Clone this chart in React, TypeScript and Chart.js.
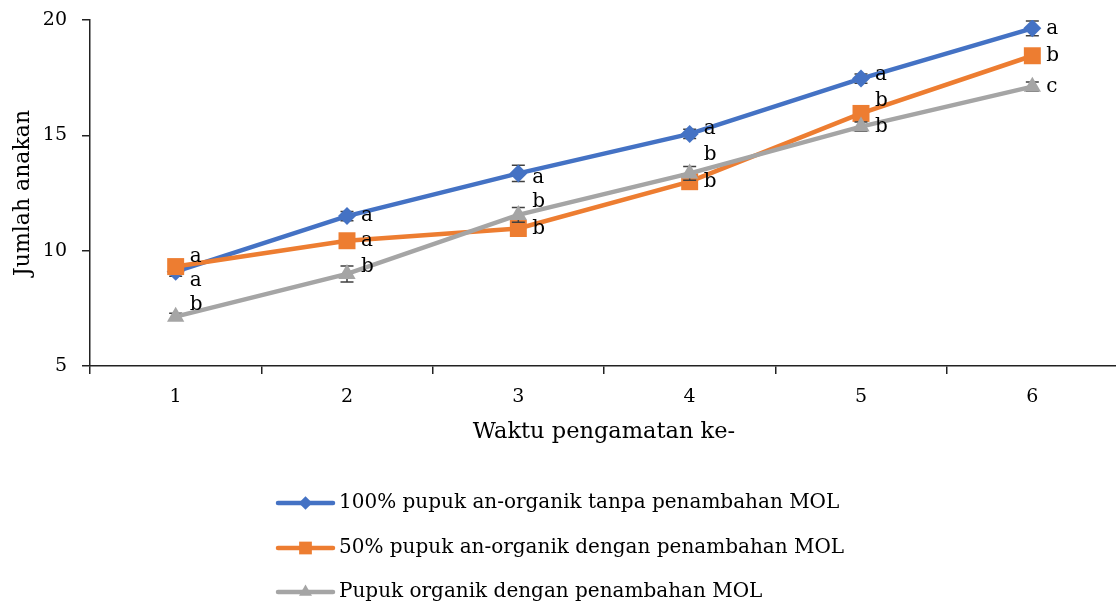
import React, { useEffect, useRef } from "react";
import { Chart, registerables } from "chart.js";

Chart.register(...registerables);

// ---------- data ----------
const categories = ["1", "2", "3", "4", "5", "6"];
const seriesNames = [
  "100% pupuk an-organik tanpa penambahan MOL",
  "50% pupuk an-organik dengan penambahan MOL",
  "Pupuk organik dengan penambahan MOL",
];
const anorganik100 = [9.09, 11.5, 13.35, 15.06, 17.46, 19.64];
const anorganik50Mol = [9.31, 10.43, 10.96, 12.99, 15.95, 18.45];
const organikMol = [7.14, 8.99, 11.55, 13.35, 15.38, 17.11];
const anorganik100Err = [0.2, 0.2, 0.35, 0.2, 0.2, 0.32];
const anorganik50MolErr = [0.2, 0.2, 0.25, 0.2, 0.2, 0.2];
const organikMolErr = [0.15, 0.35, 0.32, 0.3, 0.2, 0.2];
const anorganik100Letters = ["a", "a", "a", "a", "a", "a"];
const anorganik50MolLetters = ["a", "a", "b", "b", "b", "b"];
const organikMolLetters = ["b", "b", "b", "b", "b", "c"];
const yMin = 5;
const yMax = 20;
const yStep = 5;

// label vertical nudges (px) so letters don't overlap, like the original
const letterNudge = [
  [9, 0, 4, -5, -4, 0],
  [-10, 0, 0, 0, -13, 0],
  [-12, -7, -13, -19, 0, 0],
];

const COLORS = ["#4472C4", "#ED7D31", "#A5A5A5"];
const STYLES = ["rectRot", "rect", "triangle"];
const RADII = [9, 12, 10];
const FONT = "'DejaVu Serif', 'Liberation Serif', serif";
const ERR_COLOR = "#404040";

function drawMarker(ctx: CanvasRenderingContext2D, style: string, x: number, y: number, r: number, color: string) {
  ctx.save();
  ctx.fillStyle = color;
  ctx.beginPath();
  if (style === "rectRot") {
    ctx.moveTo(x, y - r);
    ctx.lineTo(x + r, y);
    ctx.lineTo(x, y + r);
    ctx.lineTo(x - r, y);
  } else if (style === "rect") {
    const s = r * Math.SQRT1_2;
    ctx.rect(x - s, y - s, 2 * s, 2 * s);
  } else {
    ctx.moveTo(x, y - r);
    ctx.lineTo(x + r * 0.866, y + r / 2);
    ctx.lineTo(x - r * 0.866, y + r / 2);
  }
  ctx.closePath();
  ctx.fill();
  ctx.restore();
}

const errorBarPlugin = {
  id: "errorBars",
  beforeDatasetDraw(chart: any, args: any) {
    const ds = chart.data.datasets[args.index];
    const errs: number[] = ds.errors || [];
    const yScale = chart.scales.y;
    const ctx = chart.ctx;
    ctx.save();
    ctx.strokeStyle = ERR_COLOR;
    ctx.lineWidth = 1.5;
    args.meta.data.forEach((pt: any, j: number) => {
      const v = ds.data[j];
      const e = errs[j] || 0;
      const y1 = yScale.getPixelForValue(v + e);
      const y2 = yScale.getPixelForValue(v - e);
      const x = pt.x;
      ctx.beginPath();
      ctx.moveTo(x, y1);
      ctx.lineTo(x, y2);
      ctx.moveTo(x - 6.5, y1);
      ctx.lineTo(x + 6.5, y1);
      ctx.moveTo(x - 6.5, y2);
      ctx.lineTo(x + 6.5, y2);
      ctx.stroke();
    });
    ctx.restore();
  },
};

const letterPlugin = {
  id: "letters",
  afterDatasetsDraw(chart: any) {
    const ctx = chart.ctx;
    ctx.save();
    ctx.font = `20px ${FONT}`;
    ctx.fillStyle = "#000";
    ctx.textAlign = "left";
    ctx.textBaseline = "middle";
    chart.data.datasets.forEach((ds: any, i: number) => {
      const meta = chart.getDatasetMeta(i);
      meta.data.forEach((pt: any, j: number) => {
        ctx.fillText(ds.letters[j], pt.x + 14, pt.y + letterNudge[i][j]);
      });
    });
    ctx.restore();
  },
};

const legendPlugin = {
  id: "customLegend",
  afterDraw(chart: any) {
    const ctx = chart.ctx;
    const x0 = 278;
    const x1 = 333;
    const ys = [503, 548, 592];
    ctx.save();
    chart.data.datasets.forEach((ds: any, i: number) => {
      const y = ys[i];
      ctx.strokeStyle = COLORS[i];
      ctx.lineWidth = 4.5;
      ctx.lineCap = "round";
      ctx.beginPath();
      ctx.moveTo(x0, y);
      ctx.lineTo(x1, y);
      ctx.stroke();
      drawMarker(ctx, STYLES[i], (x0 + x1) / 2, y, RADII[i] * 0.75, COLORS[i]);
      ctx.font = `20px ${FONT}`;
      ctx.fillStyle = "#000";
      ctx.textAlign = "left";
      ctx.textBaseline = "middle";
      ctx.fillText(ds.label, x1 + 6, y);
    });
    ctx.restore();
  },
};

export default function App() {
  const ref = useRef<HTMLCanvasElement | null>(null);

  useEffect(() => {
    if (!ref.current) return;
    const values = [anorganik100, anorganik50Mol, organikMol];
    const errors = [anorganik100Err, anorganik50MolErr, organikMolErr];
    const letters = [anorganik100Letters, anorganik50MolLetters, organikMolLetters];
    const chart = new Chart(ref.current, {
      type: "line",
      data: {
        labels: categories,
        datasets: values.map((v, i) => ({
          label: seriesNames[i],
          data: v,
          errors: errors[i],
          letters: letters[i],
          borderColor: COLORS[i],
          backgroundColor: COLORS[i],
          pointBackgroundColor: COLORS[i],
          pointBorderColor: COLORS[i],
          pointBorderWidth: 0,
          pointStyle: STYLES[i],
          pointRadius: RADII[i],
          borderWidth: 4.5,
          tension: 0,
          order: 3 - i,
        })) as any,
      },
      options: {
        responsive: false,
        animation: false,
        devicePixelRatio: 1,
        layout: { padding: { left: 0, top: 20, right: 11, bottom: 149 } },
        plugins: {
          legend: { display: false },
          tooltip: { enabled: false },
        },
        scales: {
          x: {
            type: "category",
            offset: true,
            grid: {
              offset: true,
              drawOnChartArea: false,
              drawTicks: true,
              tickLength: 8,
              color: "#222",
              lineWidth: 1.5,
            },
            border: { display: true, color: "#222", width: 1.5 },
            ticks: { color: "#000", font: { family: FONT, size: 19 }, padding: 12 },
            title: {
              display: true,
              text: "Waktu pengamatan ke-",
              color: "#000",
              font: { family: FONT, size: 22.5 },
              padding: { top: 10, bottom: 10 },
            },
            afterFit(scale: any) {
              scale.height = 90;
              scale.paddingLeft = 0;
              scale.paddingRight = 0;
            },
          },
          y: {
            min: yMin,
            max: yMax,
            ticks: {
              stepSize: yStep,
              color: "#000",
              font: { family: FONT, size: 19 },
              padding: 15,
            },
            grid: {
              drawOnChartArea: false,
              drawTicks: true,
              tickLength: 8,
              color: "#222",
              lineWidth: 1.5,
            },
            border: { display: true, color: "#222", width: 1.5 },
            title: {
              display: true,
              text: "Jumlah anakan",
              color: "#000",
              font: { family: FONT, size: 22 },
              padding: { top: 10, bottom: 10 },
            },
            afterFit(scale: any) {
              scale.width = 90;
              scale.paddingTop = 0;
              scale.paddingBottom = 0;
            },
          },
        },
      } as any,
      plugins: [errorBarPlugin, letterPlugin, legendPlugin],
    });
    return () => chart.destroy();
  }, []);

  return (
    <div
      style={{
        position: "fixed",
        left: 0,
        top: 0,
        width: 1116,
        height: 605,
        overflow: "hidden",
        background: "#fff",
      }}
    >
      <canvas ref={ref} width={1130} height={605} style={{ display: "block" }} />
    </div>
  );
}
